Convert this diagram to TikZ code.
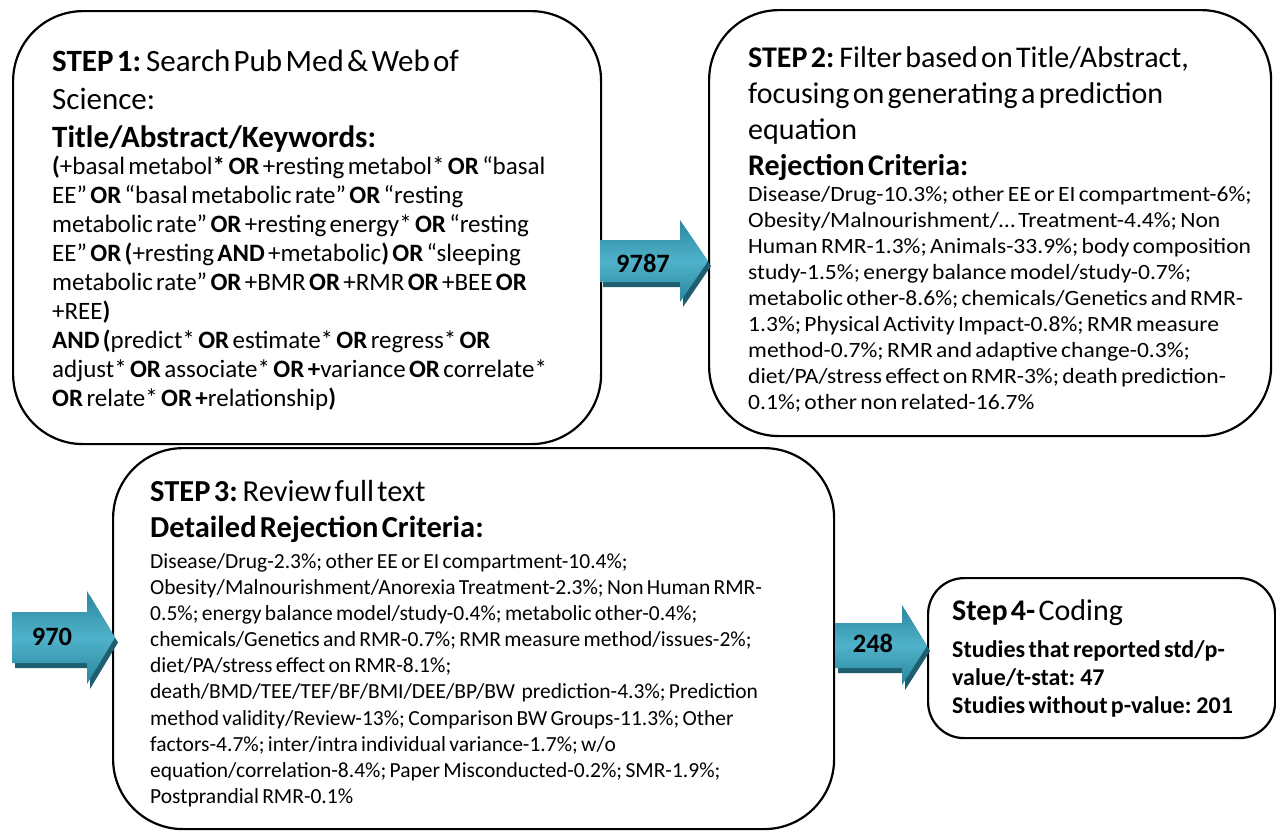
\documentclass[tikz,border=0pt]{standalone}
\usepackage{fontspec}
\setmainfont{Carlito}
\newfontfamily\widefont[FakeStretch=1.08]{Carlito}
\definecolor{tealA}{HTML}{2A879E}
\definecolor{tealB}{HTML}{4FB2CA}
\definecolor{tealS}{HTML}{1F5E6E}
\tikzset{
  boxshape/.style={draw=black, line width=2.2pt, rounded corners=#1, fill=white},
  boxtext/.style={anchor=north west, inner sep=0pt, align=left, text width=700pt},
  arrowbody/.style={top color=tealA, bottom color=tealA, middle color=tealB, draw=none},
  arrowshadow/.style={fill=tealS, draw=none},
  arrowlabel/.style={inner sep=0pt, font=\fontsize{26.5}{30}\selectfont\bfseries}
}
\newcommand{\blockarrow}[8]{% x0 ytop ybot xh yht yhb xt yt
  \fill[arrowshadow] (#1+3,#2+5) -- (#4+3,#2+5) -- (#4+3,#5+5) -- (#7+3,#8+5) -- (#4+3,#6+5) -- (#4+3,#3+5) -- (#1+3,#3+5) -- cycle;
  \shade[arrowbody] (#1,#2) -- (#4,#2) -- (#4,#5) -- (#7,#8) -- (#4,#6) -- (#4,#3) -- (#1,#3) -- cycle;
}
\begin{document}
\begin{tikzpicture}[x=1pt,y=-1pt]
\useasboundingbox (0,0) rectangle (1276,831);
% boxes
\node[boxshape=70pt, minimum width=588pt, minimum height=433pt, anchor=north west] (s1) at (12,10) {};
\node[boxshape=70pt, minimum width=562pt, minimum height=426pt, anchor=north west] (s2) at (708,9) {};
\node[boxshape=70pt, minimum width=721pt, minimum height=381pt, anchor=north west] (s3) at (112,447) {};
\node[boxshape=36pt, minimum width=347pt, minimum height=160pt, anchor=north west] (s4) at (927,577) {};
% arrows
\blockarrow{600}{240}{282}{680}{220}{302}{708}{261}
\node[arrowlabel] (a1) at (643,263) {9787};
\blockarrow{12}{612}{663}{87}{591}{684}{115}{637.5}
\node[arrowlabel] (a2) at (52,637) {970};
\blockarrow{835}{623}{668}{902}{605}{685}{927}{646}
\node[arrowlabel] (a3) at (873,643) {248};
% texts
\node[boxtext] (t1) at (52,50) {%
{\fontsize{31}{38}\selectfont\textbf{STEP 1:} Search Pub Med \& Web of\\
Science:\\
\textbf{Title/Abstract/Keywords:}\par}
\vskip-2pt
{\fontsize{25}{29}\selectfont\textbf{(}+basal metabol\textbf{*} \textbf{OR} +resting metabol* \textbf{OR} “basal\\
EE” \textbf{OR} “basal metabolic rate” \textbf{OR} “resting\\
metabolic rate” \textbf{OR} +resting energy* \textbf{OR} “resting\\
EE” \textbf{OR (}+resting \textbf{AND} +metabolic\textbf{)} \textbf{OR} “sleeping\\
metabolic rate” \textbf{OR} +BMR \textbf{OR} +RMR \textbf{OR} +BEE \textbf{OR}\\
+REE\textbf{)}\\
\textbf{AND (}predict* \textbf{OR} estimate* \textbf{OR} regress* \textbf{OR}\\
adjust* \textbf{OR} associate* \textbf{OR +}variance \textbf{OR} correlate*\\
\textbf{OR} relate* \textbf{OR +}relationship\textbf{)}\par}};
\node[boxtext] (t2) at (748,46) {%
{\fontsize{30}{36}\selectfont\textbf{STEP 2:} Filter based on Title/Abstract,\\
focusing on generating a prediction\\
equation\\
\textbf{Rejection Criteria:}\par}
{\widefont\fontsize{21.8}{26}\selectfont Disease/Drug-10.3\%; other EE or EI compartment-6\%;\\
Obesity/Malnourishment/… Treatment-4.4\%; Non\\
Human RMR-1.3\%; Animals-33.9\%; body composition\\
study-1.5\%; energy balance model/study-0.7\%;\\
metabolic other-8.6\%; chemicals/Genetics and RMR-\\
1.3\%; Physical Activity Impact-0.8\%; RMR measure\\
method-0.7\%; RMR and adaptive change-0.3\%;\\
diet/PA/stress effect on RMR-3\%; death prediction-\\
0.1\%; other non related-16.7\%\par}};
\node[boxtext] (t3) at (150,480) {%
{\fontsize{30.5}{36}\selectfont\textbf{STEP 3:} Review full text\\
\textbf{Detailed Rejection Criteria:}\par}
\vskip5pt
{\fontsize{21.5}{26.1}\selectfont Disease/Drug-2.3\%; other EE or EI compartment-10.4\%;\\
Obesity/Malnourishment/Anorexia Treatment-2.3\%; Non Human RMR-\\
0.5\%; energy balance model/study-0.4\%; metabolic other-0.4\%;\\
chemicals/Genetics and RMR-0.7\%; RMR measure method/issues-2\%;\\
diet/PA/stress effect on RMR-8.1\%;\\
death/BMD/TEE/TEF/BF/BMI/DEE/BP/BW\ \ prediction-4.3\%; Prediction\\
method validity/Review-13\%; Comparison BW Groups-11.3\%; Other\\
factors-4.7\%; inter/intra individual variance-1.7\%; w/o\\
equation/correlation-8.4\%; Paper Misconducted-0.2\%; SMR-1.9\%;\\
Postprandial RMR-0.1\%\par}};
\node[boxtext] (t4) at (952,599) {%
{\fontsize{30}{36}\selectfont\textbf{Step 4-} Coding\par}
\vskip9pt
{\fontsize{24}{28}\selectfont\bfseries Studies that reported std/p-\\
value/t-stat: 47\\
Studies without p-value: 201\par}};
\end{tikzpicture}
\end{document}
